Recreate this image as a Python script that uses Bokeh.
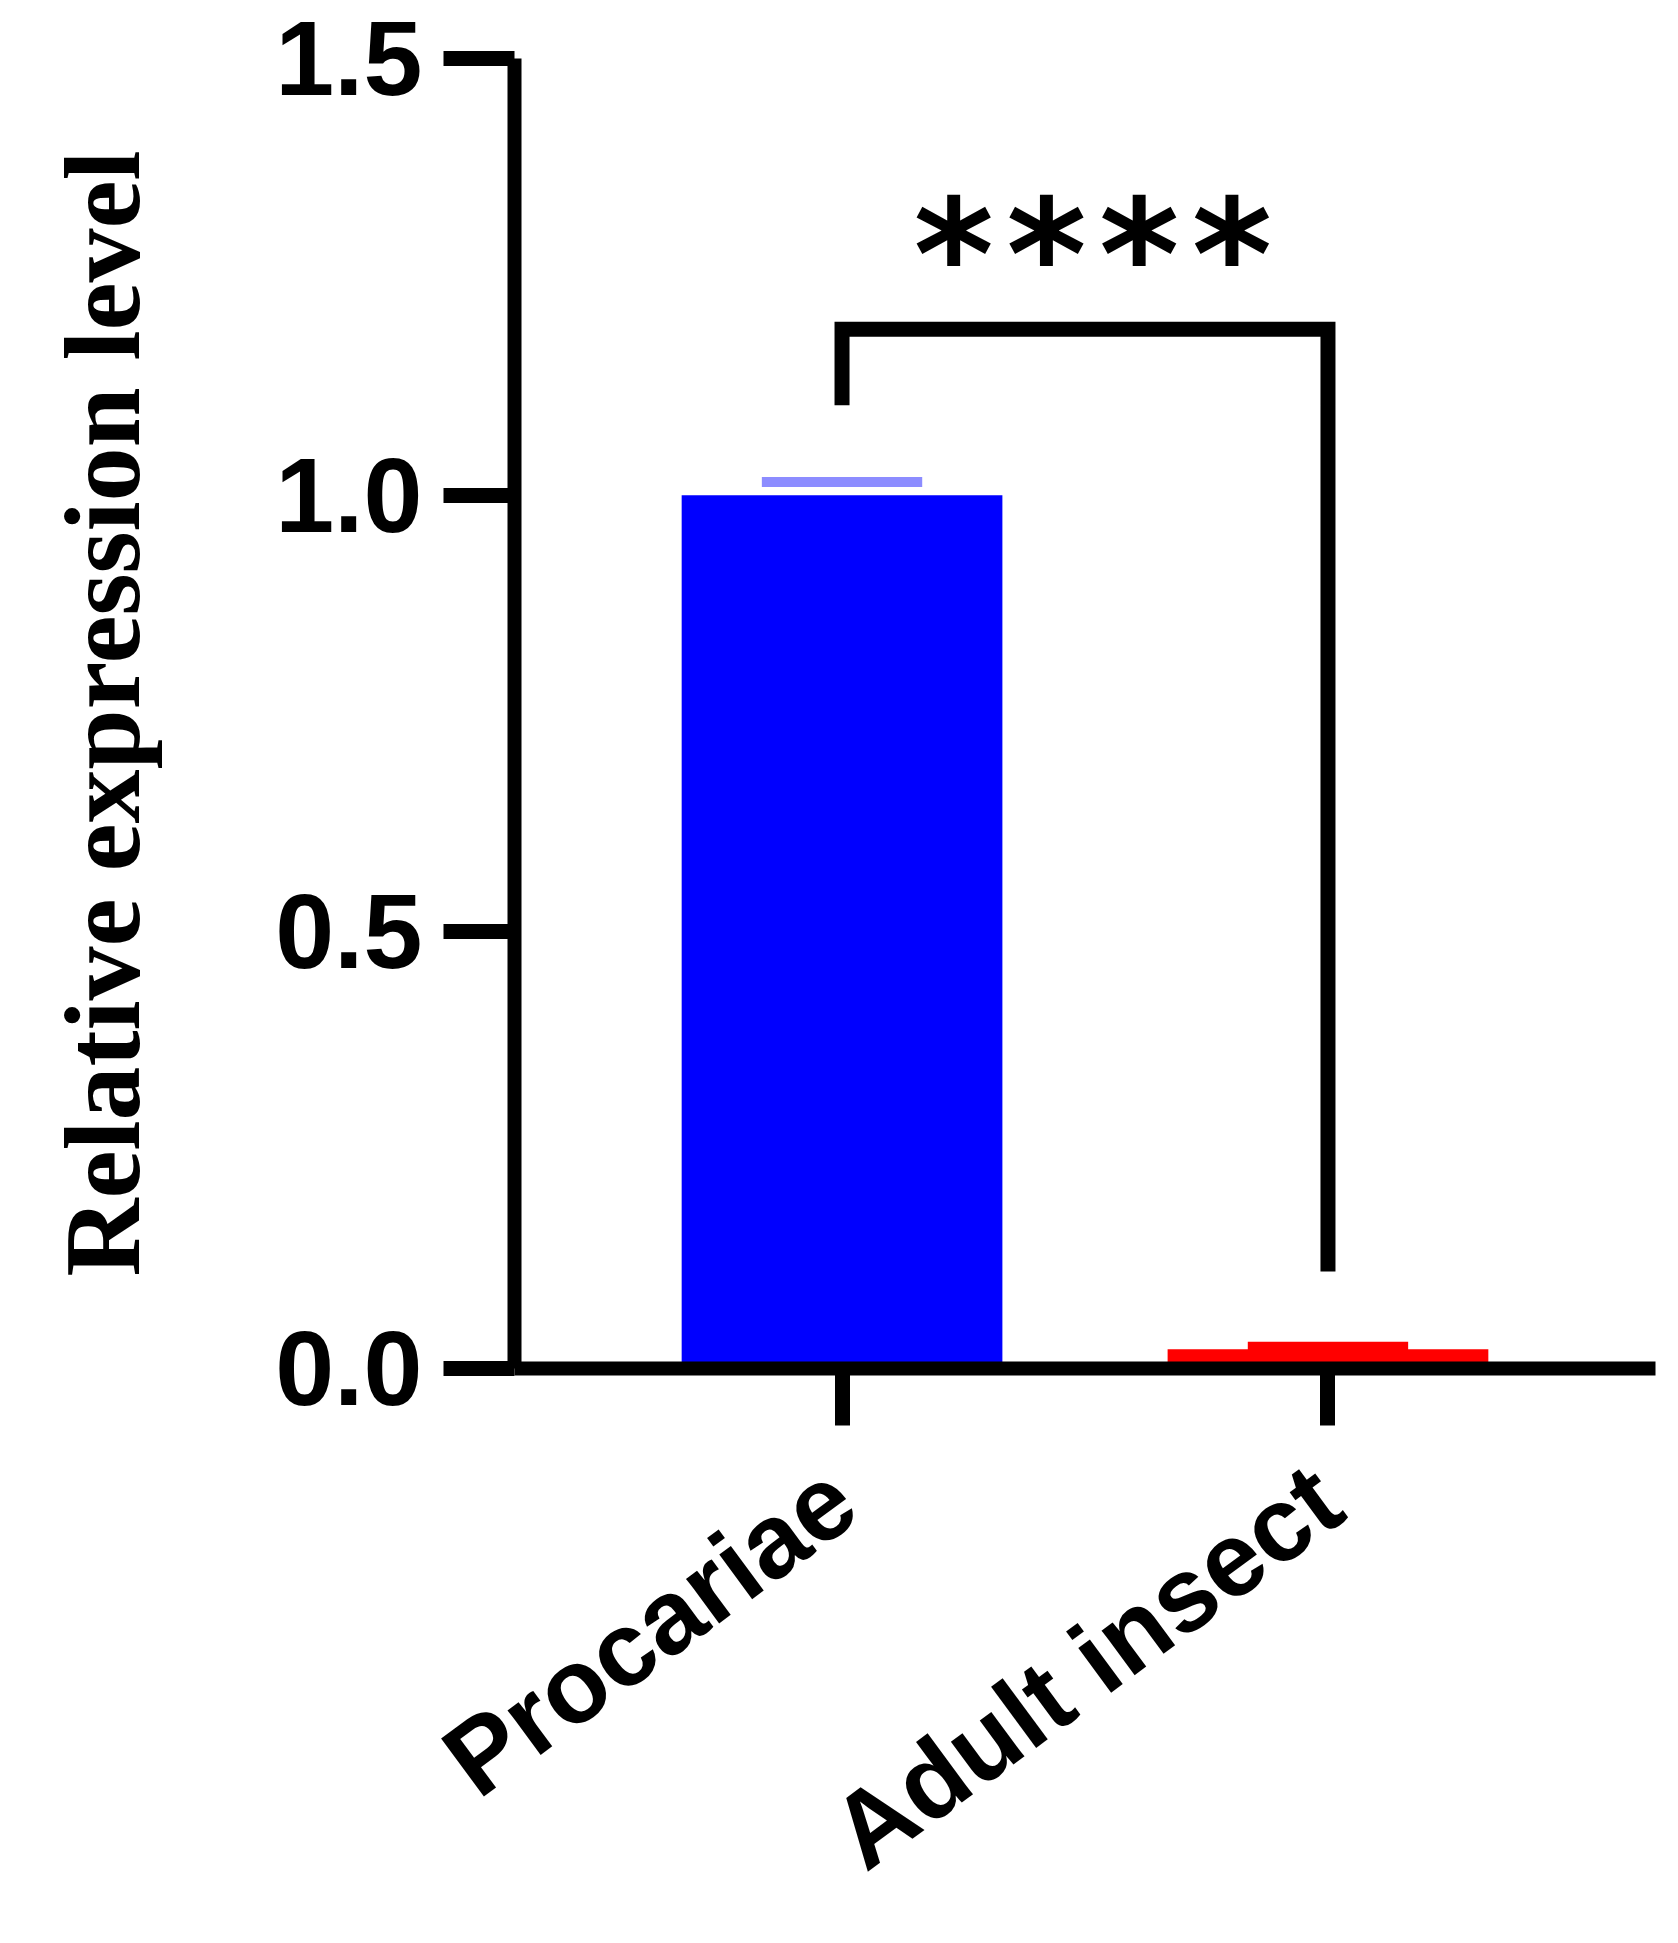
from bokeh.plotting import figure
from bokeh.models import (FactorRange, Range1d, FixedTicker, NumeralTickFormatter,
                          ColumnDataSource, Label)
from bokeh.embed import file_html
from bokeh.resources import INLINE

# ---- data ----
categories = ["Procariae", "Adult insect"]
means = [1.0, 0.022]
errors = [0.015, 0.003]
bar_colors = ["#0000ff", "#ff0000"]
cap_colors = ["#8c8cff", "#ff0000"]
y_ticks = [0.0, 0.5, 1.0, 1.5]
y_label = "Relative expression level"
significance = "****"

# ---- annotation placement (data units) ----
bracket_left_bottom = 1.103
bracket_top = 1.19
bracket_right_bottom = 0.111
star_y = 1.275

W, H = 1675, 1941
p = figure(
    width=W, height=H,
    x_range=FactorRange(factors=categories, range_padding=0.174, range_padding_units="percent"),
    y_range=Range1d(0, 1.5),
    output_backend="svg", toolbar_location=None,
    min_border_left=514, min_border_right=20, min_border_top=58, min_border_bottom=571,
)
p.outline_line_color = None
p.xgrid.visible = False
p.ygrid.visible = False
p.background_fill_color = "white"
p.border_fill_color = "white"

src = ColumnDataSource(dict(
    cat=categories,
    mean=means,
    upper=[m + e for m, e in zip(means, errors)],
    color=bar_colors,
    cap=cap_colors,
))

p.vbar(x="cat", top="mean", bottom=0, width=0.66, fill_color="color", line_color=None, source=src)
p.rect(x="cat", y="upper", width=0.33, height=10, height_units="screen",
       fill_color="cap", line_color=None, source=src)

# significance bracket
p.line(x=[categories[0], categories[0], categories[1], categories[1]],
       y=[bracket_left_bottom, bracket_top, bracket_top, bracket_right_bottom],
       line_width=15, line_color="black", line_join="miter", line_cap="butt")

p.add_layout(Label(x=1.0, y=star_y, x_offset=8, text=significance, text_align="center",
                   text_baseline="middle", text_font="DejaVu Sans Mono",
                   text_font_style="bold", text_font_size="154px", text_color="black"))

# y axis
ya = p.yaxis[0]
ya.ticker = FixedTicker(ticks=y_ticks)
ya.formatter = NumeralTickFormatter(format="0.0")
ya.axis_line_width = 14
ya.axis_line_color = "black"
ya.major_tick_line_width = 15
ya.major_tick_line_color = "black"
ya.major_tick_out = 71
ya.major_tick_in = 0
ya.minor_tick_out = 0
ya.minor_tick_in = 0
ya.major_label_text_font = "Liberation Sans"
ya.major_label_text_font_style = "bold"
ya.major_label_text_font_size = "106px"
ya.major_label_text_color = "black"
ya.major_label_standoff = 21
ya.axis_label = y_label
ya.axis_label_text_font = "Liberation Serif"
ya.axis_label_text_font_style = "bold"
ya.axis_label_text_font_size = "108px"
ya.axis_label_text_color = "black"
ya.axis_label_standoff = 110

# x axis
xa = p.xaxis[0]
xa.axis_line_width = 14
xa.axis_line_color = "black"
xa.major_tick_line_width = 15
xa.major_tick_line_color = "black"
xa.major_tick_out = 57
xa.major_tick_in = 0
xa.minor_tick_out = 0
xa.major_label_orientation = 0.635
xa.major_label_text_font = "Liberation Sans"
xa.major_label_text_font_style = "bold"
xa.major_label_text_font_size = "105px"
xa.major_label_text_color = "black"
xa.major_label_standoff = 62

open("out.html", "w").write(file_html(p, INLINE))
